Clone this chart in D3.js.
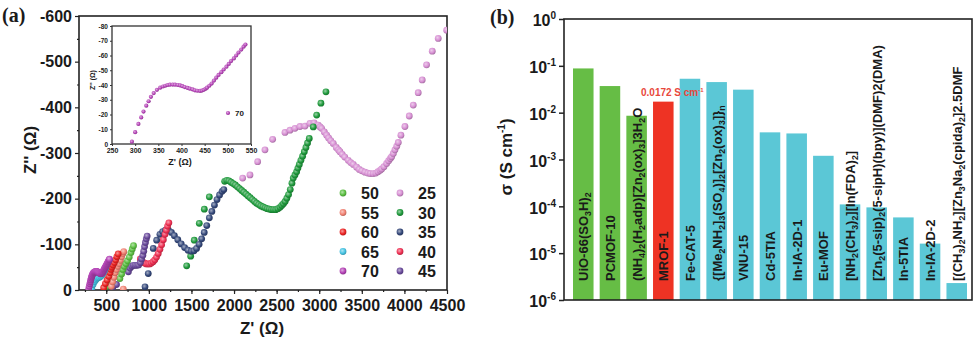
<!DOCTYPE html>
<html>
<head>
<meta charset="utf-8">
<script src="https://cdn.jsdelivr.net/npm/d3@7"></script>
<style>
  body { margin: 0; background: #fff; }
  text { font-family: Arial, "Liberation Sans", sans-serif; font-weight: bold; fill: #1a1a1a; }
</style>
</head>
<body>
<svg id="chart" width="979" height="339"></svg>
<script>
// --- Daten Panel (a): Nyquist-Kurven, [Z', Z''] je Temperatur ---
const s25 = [[2101,-245],[2187,-252],[2277,-281],[2363,-307],[2453,-330],[2598,-345],[2657,-350],[2715,-354],[2774,-358],[2833,-359],[2891,-365],[2940,-366],[2989,-361],[3010,-357],[3028,-354],[3060,-346],[3087,-339],[3110,-333],[3135,-327],[3165,-321],[3200,-312],[3225,-307],[3243,-303],[3270,-297],[3300,-291],[3341,-284],[3370,-279],[3400,-275],[3439,-269],[3470,-264],[3500,-261],[3537,-258],[3570,-256],[3600,-255],[3634,-255],[3665,-256],[3690,-259],[3715,-262],[3733,-265],[3760,-270],[3791,-277],[3815,-283],[3835,-288],[3850,-292],[3870,-299],[3889,-307],[3910,-315],[3928,-323],[3959,-339],[4006,-358],[4057,-381],[4104,-405],[4162,-432],[4209,-460],[4260,-493],[4327,-523],[4397,-551],[4496,-569]];
const s30 = [[1444,-53],[1491,-74],[1533,-109],[1592,-146],[1651,-177],[1710,-204],[1890,-238],[1915,-240],[1940,-239],[1965,-236],[1990,-233],[2015,-230],[2040,-226],[2065,-222],[2090,-218],[2115,-214],[2140,-210],[2165,-206],[2190,-202],[2215,-198],[2240,-194],[2265,-190],[2290,-187],[2315,-184],[2340,-182],[2365,-180],[2390,-178],[2415,-177],[2440,-176],[2465,-176],[2490,-176],[2515,-178],[2540,-181],[2560,-185],[2580,-189],[2600,-194],[2620,-201],[2640,-209],[2660,-220],[2680,-234],[2695,-245],[2715,-252],[2735,-259],[2750,-267],[2766,-275],[2785,-284],[2805,-293],[2825,-303],[2844,-312],[2863,-322],[2883,-332],[2930,-357],[2970,-383],[3020,-409],[3079,-434]];
const s35 = [[955,-7],[993,-36],[1052,-91],[1092,-109],[1130,-122],[1162,-128],[1195,-131],[1230,-131],[1265,-126],[1300,-119],[1340,-110],[1380,-101],[1420,-93],[1460,-87],[1500,-85],[1530,-86],[1560,-91],[1590,-100],[1620,-112],[1650,-126],[1680,-141],[1710,-158],[1740,-172],[1770,-186],[1800,-198],[1830,-208],[1860,-216],[1880,-220]];
const s40 = [[900,-68],[915,-64],[930,-61],[950,-59],[970,-57],[990,-57],[1010,-57],[1030,-59],[1050,-62],[1070,-66],[1090,-72],[1110,-80],[1130,-89],[1150,-99],[1170,-110],[1190,-122],[1205,-131],[1220,-140],[1235,-147]];
const s45 = [[580,-7],[620,-12],[760,-40],[780,-48],[800,-52],[820,-54],[840,-54],[860,-54],[880,-55],[900,-60],[915,-68],[930,-76],[940,-85],[950,-95],[960,-104],[970,-112],[980,-118]];
const s50 = [[505,-8],[525,-15],[660,-25],[680,-35],[695,-45],[710,-52],[730,-58],[750,-64],[770,-72],[790,-82],[805,-90],[820,-97]];
const s55 = [[700,-2],[560,-8],[575,-18],[590,-28],[605,-38],[620,-45],[635,-52],[650,-58],[665,-65],[680,-73],[695,-80],[705,-84]];
const s60 = [[470,-5],[490,-14],[510,-22],[530,-30],[545,-38],[555,-45],[565,-50],[580,-55],[595,-60],[610,-66],[625,-73],[640,-79]];
const s65 = [[330,-4],[345,-12],[360,-18],[375,-22],[390,-25],[405,-27],[420,-28],[435,-30],[450,-33],[465,-37],[480,-42],[495,-48]];
const s70 = [[293,-1.6],[300,-8],[307,-13.6],[313,-18],[318,-22],[324,-26],[329,-29],[334,-32],[340,-34.5],[347,-36.7],[354,-38.2],[360,-39],[365,-39.5],[370,-40],[375,-40.2],[381,-40.3],[386,-40.2],[392,-40],[397,-39.7],[402,-39.2],[407,-38.6],[413,-38],[418,-37.5],[424,-37],[429,-36.4],[434,-36.1],[440,-36],[444,-36.2],[448,-36.7],[452,-37.4],[455,-38.2],[460,-39.5],[465,-41],[470,-43],[475,-45],[480,-46.8],[486,-48.7],[491,-50.5],[497,-52.4],[502,-54.3],[507,-56.2],[513,-58],[518,-60],[523,-62],[529,-64],[534,-66],[538,-67.4]];

const seriesKeys = ["25","30","35","40","45","50","55","60","65","70"];
const seriesData = [s25, s30, s35, s40, s45, s50, s55, s60, s65, s70];
const legendOrder = ["50","55","60","65","70","25","30","35","40","45"];

const xTicksA = [500,1000,1500,2000,2500,3000,3500,4000,4500];
const yTicksA = [0,-100,-200,-300,-400,-500,-600];
const xTicksInset = [250,300,350,400,450,500,550];
const yTicksInset = [0,-10,-20,-30,-40,-50,-60,-70,-80];

// --- Daten Panel (b): Leitfähigkeit ---
const materials = ["UiO-66(SO_3H)_2","PCMOF-10","(NH_4)_2(H_2adp)[Zn_2(ox)_3]3H_2O","MROF-1","Fe-CAT-5",
  "{[Me_2NH_2]_3(SO_4)]_2[Zn_2(ox)_3]}_n","VNU-15","Cd-5TIA","In-IA-2D-1","Eu-MOF",
  "[NH_2(CH_3)_2][In(FDA)_2]","[Zn_2(5-sip)_2(5-sipH)(bpy)](DMF)2(DMA)","In-5TIA","In-IA-2D-2",
  "[(CH_3)_2NH_2][Zn_3Na_2(cpida)_2]2.5DMF"];
const sigma = [0.088,0.037,0.0086,0.0172,0.053,0.045,0.031,0.0038,0.0036,0.0012,1.1e-4,9.5e-5,5.8e-5,1.6e-5,2.3e-6];
const groups = ["g","g","g","r","c","c","c","c","c","c","c","c","c","c","c"];
const yTicksB = [1,1e-1,1e-2,1e-3,1e-4,1e-5,1e-6];

// --- Farben ---
const colors = {"25":"#d78fd3","30":"#1f9a3c","35":"#34487a","40":"#ef2f52","45":"#6a4a9c",
  "50":"#5cc043","55":"#f28374","60":"#ec2424","65":"#45c3e3","70":"#b441b6"};
const barColors = {g:"#66bd45", r:"#ee3324", c:"#5bc7d6"};

const svg = d3.select("#chart");
const defs = svg.append("defs");
seriesKeys.forEach(k => {
  const c = colors[k];
  const gr = defs.append("radialGradient").attr("id", "g" + k)
    .attr("cx", "0.4").attr("cy", "0.38").attr("r", "0.62");
  gr.append("stop").attr("offset", "0%").attr("stop-color", d3.interpolateRgb(c, "#fff")(0.55));
  gr.append("stop").attr("offset", "65%").attr("stop-color", c);
  gr.append("stop").attr("offset", "100%").attr("stop-color", d3.color(c).darker(0.7));
});

// Hilfsfunktion: Text mit Tief-/Hochstellung (_x = tief)
function richText(sel, str, size, shift) {
  let parts = [];
  for (let i = 0; i < str.length; i++) {
    if (str[i] === "_") { parts.push({t: str[i + 1], sub: true}); i++; }
    else if (parts.length && !parts[parts.length - 1].sub) parts[parts.length - 1].t += str[i];
    else parts.push({t: str[i], sub: false});
  }
  let prev = false;
  parts.forEach(p => {
    sel.append("tspan").text(p.t)
      .attr("font-size", p.sub ? size * 0.68 : size)
      .attr("dy", p.sub === prev ? 0 : (p.sub ? shift : -shift));
    prev = p.sub;
  });
}

// ================= Panel (a) =================
const xA = d3.scaleLinear().domain([180, 4500]).range([79, 447]);
const yA = d3.scaleLinear().domain([0, -600]).range([290, 16]);

const gA = svg.append("g");
gA.append("g").attr("transform", "translate(0,290)")
  .call(d3.axisBottom(xA).tickValues(d3.range(250, 4500, 250)).tickSize(2).tickFormat(""));
gA.append("g").attr("transform", "translate(0,290)")
  .call(d3.axisBottom(xA).tickValues(xTicksA).tickSize(4).tickPadding(6).tickFormat(d => d))
  .selectAll("text").attr("font-size", 16).attr("fill", "#1a1a1a");
gA.append("g").attr("transform", "translate(79,0)")
  .call(d3.axisLeft(yA).tickValues(d3.range(-50, -600, -100)).tickSize(2).tickFormat(""));
gA.append("g").attr("transform", "translate(79,0)")
  .call(d3.axisLeft(yA).tickValues(yTicksA).tickSize(4).tickPadding(3).tickFormat(d => String(d)))
  .selectAll("text").attr("font-size", 16).attr("fill", "#1a1a1a");
gA.selectAll(".domain").remove();
gA.selectAll(".tick line").attr("stroke", "#222").attr("stroke-width", 1.2);

gA.append("rect").attr("x", 79).attr("y", 16).attr("width", 368).attr("height", 274)
  .attr("fill", "none").attr("stroke", "#222").attr("stroke-width", 1.6);

gA.append("text").attr("x", 262).attr("y", 334).attr("text-anchor", "middle")
  .attr("font-size", 17).text("Z' (Ω)");
gA.append("text").attr("transform", "translate(36,150) rotate(-90)").attr("text-anchor", "middle")
  .attr("font-size", 17).text("Z'' (Ω)");
gA.append("text").attr("x", 2).attr("y", 22).attr("font-size", 20)
  .style("font-family", "'Times New Roman', 'Liberation Serif', serif").text("(a)");

// Punkte
const clipA = defs.append("clipPath").attr("id", "clipA");
clipA.append("rect").attr("x", 79).attr("y", 16).attr("width", 368).attr("height", 274);
const ptsA = gA.append("g").attr("clip-path", "url(#clipA)");
seriesKeys.forEach((k, i) => {
  ptsA.append("g").selectAll("circle").data(seriesData[i]).join("circle")
    .attr("cx", d => xA(d[0])).attr("cy", d => yA(d[1])).attr("r", 3.4)
    .attr("fill", "url(#g" + k + ")");
});

// Legende
legendOrder.forEach((k, i) => {
  const col = i < 5 ? 0 : 1, row = i % 5;
  const lx = col === 0 ? 343 : 400, ly = 193 + row * 19.5;
  gA.append("circle").attr("cx", lx).attr("cy", ly).attr("r", 3.4).attr("fill", "url(#g" + k + ")");
  gA.append("text").attr("x", lx + 18).attr("y", ly + 6).attr("font-size", 16).text(k);
});

// --- Inset ---
const xI = d3.scaleLinear().domain([250, 550]).range([112, 251]);
const yI = d3.scaleLinear().domain([0, -80]).range([144, 26]);
const gI = svg.append("g");
gI.append("rect").attr("x", 112).attr("y", 26).attr("width", 139).attr("height", 118)
  .attr("fill", "#fff").attr("stroke", "#333").attr("stroke-width", 1.3);
gI.append("g").attr("transform", "translate(0,144)")
  .call(d3.axisBottom(xI).tickValues(xTicksInset).tickSize(2).tickPadding(2).tickFormat(d => d))
  .selectAll("text").attr("font-size", 7).attr("fill", "#333");
gI.append("g").attr("transform", "translate(112,0)")
  .call(d3.axisLeft(yI).tickValues(yTicksInset).tickSize(2).tickPadding(2).tickFormat(d => String(d)))
  .selectAll("text").attr("font-size", 6.5).attr("fill", "#333");
gI.selectAll(".domain").remove();
gI.selectAll(".tick line").attr("stroke", "#333");
gI.append("text").attr("x", 180).attr("y", 165).attr("text-anchor", "middle")
  .attr("font-size", 9).attr("fill", "#333").text("Z' (Ω)");
gI.append("text").attr("transform", "translate(95,80) rotate(-90)").attr("text-anchor", "middle")
  .attr("font-size", 7).attr("fill", "#333").text("Z'' (Ω)");
gI.append("g").selectAll("circle").data(s70).join("circle")
  .attr("cx", d => xI(d[0])).attr("cy", d => yI(d[1])).attr("r", 2.1)
  .attr("fill", "url(#g70)");
gI.append("circle").attr("cx", 228).attr("cy", 113).attr("r", 2.1).attr("fill", "url(#g70)");
gI.append("text").attr("x", 235).attr("y", 116).attr("font-size", 8).attr("fill", "#333").text("70");

// ================= Panel (b) =================
const xB = d3.scaleBand().domain(materials).range([573, 967]).paddingInner(0.23).paddingOuter(0);
const yB = d3.scaleLog().domain([1e-6, 1]).range([300, 19]);
const gB = svg.append("g");

gB.append("g").selectAll("rect").data(materials).join("rect")
  .attr("x", d => xB(d)).attr("width", xB.bandwidth())
  .attr("y", (d, i) => yB(sigma[i])).attr("height", (d, i) => 300 - yB(sigma[i]))
  .attr("fill", (d, i) => barColors[groups[i]]);

materials.forEach(m => {
  const t = gB.append("text")
    .attr("transform", `translate(${xB(m) + xB.bandwidth() / 2 + 5},281) rotate(-90)`)
    .attr("font-size", 13);
  richText(t, m, 13, 3);
});

const axB = gB.append("g").attr("transform", "translate(564,0)")
  .call(d3.axisLeft(yB).tickValues(yTicksB).tickSize(5).tickPadding(3).tickFormat(""));
axB.select(".domain").remove();
axB.selectAll(".tick line").attr("stroke", "#222").attr("stroke-width", 1.5);
axB.selectAll(".tick text").each(function (d) {
  const t = d3.select(this).attr("font-size", 16).attr("fill", "#1a1a1a").attr("dy", "0.42em");
  t.append("tspan").text("10");
  t.append("tspan").text(Math.round(Math.log10(d))).attr("font-size", 10).attr("dy", -7);
});

gB.append("rect").attr("x", 564).attr("y", 19).attr("width", 408).attr("height", 281)
  .attr("fill", "none").attr("stroke", "#222").attr("stroke-width", 1.6);

const ann = gB.append("text").attr("x", 641).attr("y", 96).attr("font-size", 10)
  .attr("fill", "#e8483c").style("fill", "#e8483c");
ann.append("tspan").text("0.0172 S cm");
ann.append("tspan").text("-1").attr("font-size", 6).attr("dy", -4);

const yl = gB.append("text").attr("transform", "translate(512,157) rotate(-90)")
  .attr("text-anchor", "middle").attr("font-size", 17);
yl.append("tspan").text("σ (S cm");
yl.append("tspan").text("-1").attr("font-size", 10).attr("dy", -7);
yl.append("tspan").text(")").attr("dy", 7);

gB.append("text").attr("x", 490).attr("y", 24).attr("font-size", 20)
  .style("font-family", "'Times New Roman', 'Liberation Serif', serif").text("(b)");
</script>
</body>
</html>
